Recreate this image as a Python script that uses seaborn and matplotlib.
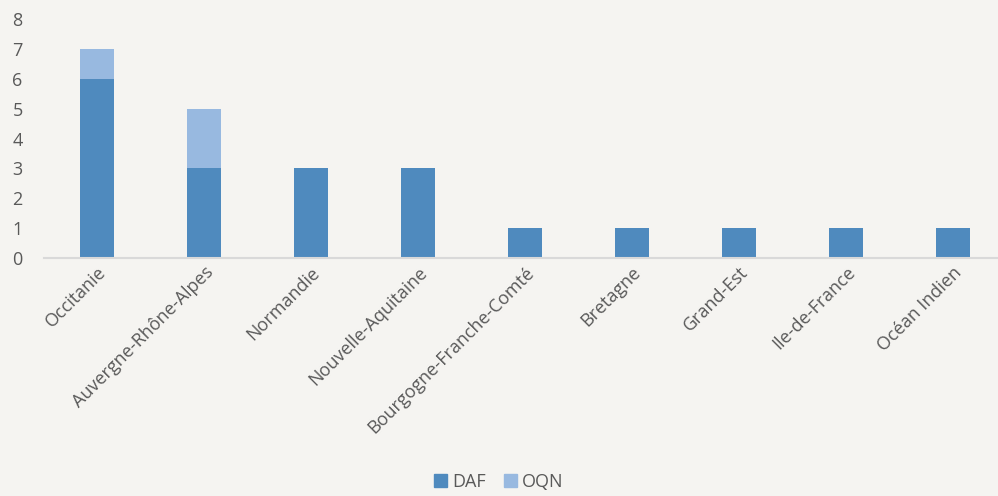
import pandas as pd
import seaborn as sns
import matplotlib.pyplot as plt
from matplotlib.patches import Patch

regions = ['Occitanie', 'Auvergne-Rhône-Alpes', 'Normandie', 'Nouvelle-Aquitaine',
           'Bourgogne-Franche-Comté', 'Bretagne', 'Grand-Est', 'Ile-de-France', 'Océan Indien']
daf = [6, 3, 3, 3, 1, 1, 1, 1, 1]
oqn = [1, 2, 0, 0, 0, 0, 0, 0, 0]

bg = '#f5f4f1'
c_daf = '#4f8abe'
c_oqn = '#98b9e0'
txt = '#595959'

sns.set_style('white')
plt.rcParams['font.family'] = ['Open Sans', 'DejaVu Sans']

df = pd.DataFrame({'region': regions, 'DAF': daf, 'OQN': oqn})
df['total'] = df['DAF'] + df['OQN']

fig = plt.figure(figsize=(9.98, 4.96), dpi=100, facecolor=bg)
ax = fig.add_axes([43.5 / 998, 238 / 496, 963 / 998, 239 / 496], facecolor=bg)

# total first (OQN colour), then DAF on top to form the stack
sns.barplot(data=df, x='region', y='total', color=c_oqn, width=0.31, saturation=1,
            linewidth=0, ax=ax)
sns.barplot(data=df, x='region', y='DAF', color=c_daf, width=0.31, saturation=1,
            linewidth=0, ax=ax)

ax.set_ylim(0, 8)
ax.set_xlim(-0.5, len(regions) - 0.5)
ax.set_yticks(range(0, 9))
ax.set_xlabel('')
ax.set_ylabel('')
for s in ['top', 'right', 'left']:
    ax.spines[s].set_visible(False)
ax.spines['bottom'].set_color('#d9d9d9')
ax.spines['bottom'].set_linewidth(1.5)
ax.tick_params(axis='both', length=0, labelsize=13, colors=txt, pad=4)
ax.tick_params(axis='y', pad=15)
ax.set_xticks(range(len(regions)))
ax.set_xticklabels(regions, rotation=45, ha='right', rotation_mode='anchor')

handles = [Patch(color=c_daf, label='DAF'), Patch(color=c_oqn, label='OQN')]
fig.legend(handles=handles, loc='lower center', bbox_to_anchor=(0.5, -0.022), ncol=2,
           frameon=False, fontsize=13, labelcolor=txt, handlelength=0.7, handleheight=0.7,
           handletextpad=0.3, columnspacing=1.0)

fig.savefig('out.png', dpi=100, facecolor=bg)
